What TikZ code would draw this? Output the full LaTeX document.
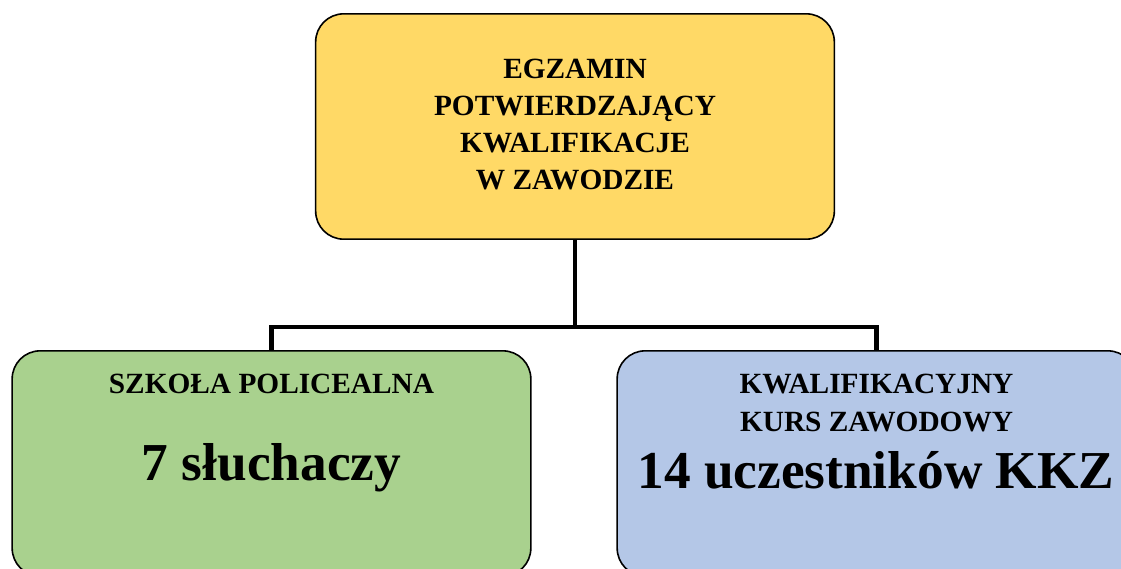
\documentclass[tikz,border=0pt]{standalone}
\usepackage{fontspec}
\setmainfont{Liberation Serif}
\usepackage{xcolor}
\usepackage{tikz}
\usetikzlibrary{positioning}

\definecolor{examyellow}{HTML}{FFD966}
\definecolor{schoolgreen}{HTML}{A9D18E}
\definecolor{courseblue}{HTML}{B4C7E7}

\begin{document}
\begin{tikzpicture}[x=0.75pt, y=-0.75pt,
    box/.style = {draw=black, line width=1.2pt, rounded corners=21pt,
                  minimum width=389pt, minimum height=169pt, inner sep=0pt},
    link/.style = {line width=3.2pt},
    headtxt/.style = {font=\bfseries\fontsize{22}{27.75}\selectfont, align=center, inner sep=0pt},
    bigtxt/.style = {font=\bfseries\fontsize{40}{46}\selectfont, inner sep=0pt}]
            \useasboundingbox (0, 0) rectangle (1121, 568);
            \clip (0, 0) rectangle (1121, 568);

            % boxes
            \node[box, fill = examyellow] (exam) at (575, 126.5) {};
            \node[box, fill = schoolgreen] (school) at (271.5, 463.5) {};
            \node[box, fill = courseblue] (course) at (876.5, 463.5) {};

            % texts
            \node[headtxt] (examtxt) at (575, 125)
                {EGZAMIN\\POTWIERDZAJĄCY\\KWALIFIKACJE\\W ZAWODZIE};
            \node[headtxt, anchor = base] (schoolhead) at (271.5, 393) {SZKOŁA POLICEALNA};
            \node[bigtxt, anchor = base] (schoolnum) at (271.5, 480) {7 słuchaczy};
            \node[headtxt, anchor = base] (coursehead1) at (876.5, 393) {KWALIFIKACYJNY};
            \node[headtxt, anchor = base] (coursehead2) at (876.5, 431) {KURS ZAWODOWY};
            \node[bigtxt, anchor = base] (coursenum) at (876, 488) {14 uczestników KKZ};

            % connectors
            \coordinate (fork) at (575, 327);
            \draw[link] (exam.south) -- (fork);
            \draw[link] (school.north) |- (fork) -| (course.north);
        \end{tikzpicture}
\end{document}
